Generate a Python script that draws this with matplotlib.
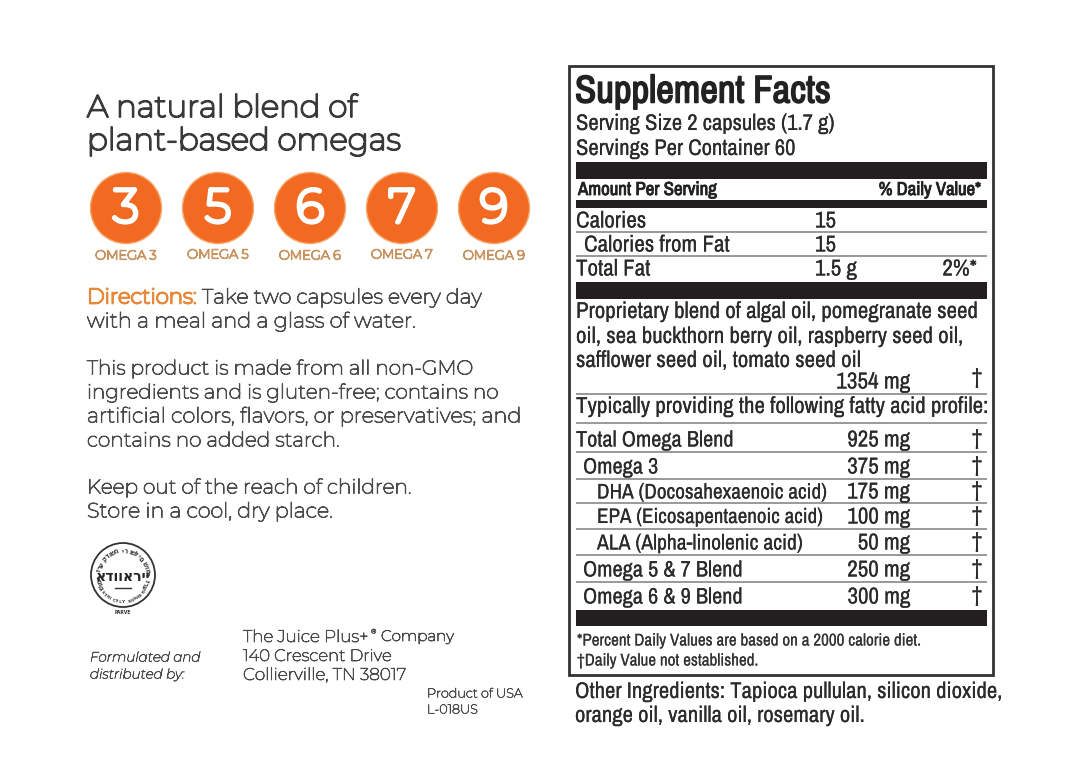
import matplotlib
matplotlib.use('Agg')
import matplotlib.pyplot as plt
import matplotlib.patheffects as pe
import numpy as np
from matplotlib import font_manager as fm

names = {f.name for f in fm.fontManager.ttflist}


def pick(*options):
    return next((o for o in options if o in names), options[-1])


narrow = pick('Liberation Sans Narrow', 'Arimo Narrow', 'Archivo Narrow', 'Roboto Condensed', 'PT Sans Narrow',
              'Barlow Semi Condensed', 'Liberation Sans')
wide = pick('Montserrat', 'Open Sans')

omega_nums = ['3', '5', '6', '7', '9']
omega_labels = ['OMEGA 3', 'OMEGA 5', 'OMEGA 6', 'OMEGA 7', 'OMEGA 9']
omega_x = [126, 218, 310, 402, 494]
omega_label_y = [256, 255, 256, 255, 256]

left_lines = ['with a meal and a glass of water.',
              'This product is made from all non-GMO',
              'ingredients and is gluten-free; contains no',
              'artificial colors, flavors, or preservatives; and',
              'contains no added starch.',
              'Keep out of the reach of children.',
              'Store in a cool, dry place.']
left_y = [322, 369, 393, 417, 441, 488, 512]
left_px = [20.9, 20, 20, 20.9, 20.1, 20.1, 20.7]

row_names = ['Calories', 'Calories from Fat', 'Total Fat', 'Total Omega Blend', 'Omega 3',
             'DHA (Docosahexaenoic acid)', 'EPA (Eicosapentaenoic acid)', 'ALA (Alpha-linolenic acid)',
             'Omega 5 & 7 Blend', 'Omega 6 & 9 Blend']
row_amounts = ['15', '15', '1.5 g', '925 mg', '375 mg', '175 mg', '100 mg', '50 mg', '250 mg', '300 mg']
row_x = [576, 584, 576, 576, 583, 597, 597, 597, 583, 583]
row_y = [220, 244, 268, 439, 466, 491, 516, 542, 569, 596]
row_px = [23, 23, 23, 22.3, 22.3, 21.2, 21, 21.6, 22.3, 22.3]
blend_lines = ['Proprietary blend of algal oil, pomegranate seed',
               'oil, sea buckthorn berry oil, raspberry seed oil,',
               'safflower seed oil, tomato seed oil']
blend_y = [311, 336, 360]

bars = [(162, 179), (200, 208), (282, 299), (610, 626)]
rules = [232, 256, 394, 423, 452, 479, 503, 529, 555, 582]

ORANGE = '#f26a21'
TAN = '#c9935f'
GREY = '#4a4a4a'
DARK = '#2b2b2b'

fig = plt.figure(figsize=(10.8, 7.74), dpi=100)
ax = fig.add_axes([0, 0, 1, 1])
ax.set_xlim(0, 1080)
ax.set_ylim(774, 0)
ax.axis('off')


def put(x, y, s, px, family=narrow, color=DARK, ha='left', stroke=0.05, **kw):
    t = ax.text(x, y, s, fontsize=px * 0.72, family=family, color=color, ha=ha, va='center', **kw)
    if stroke:
        # the installed condensed/geometric fonts come only in one weight, so thicken by stroke
        t.set_path_effects([pe.withStroke(linewidth=stroke, foreground=color)])
    return t


# left column
put(87, 109, 'A natural blend of', 31, wide, '#3a3a3a', stroke=1.4)
put(87, 142, 'plant-based omegas', 31, wide, '#3a3a3a', stroke=1.4)

for x, n, lab, ly in zip(omega_x, omega_nums, omega_labels, omega_label_y):
    ax.add_patch(plt.Circle((x, 208), 35.5, facecolor=ORANGE, edgecolor='#f7a467', linewidth=1))
    put(x, 209, n, 47, wide, 'white', ha='center', stroke=3.2)
    put(x, ly, lab, 13, wide, TAN, ha='center', stroke=0.9)

put(87, 298, 'Directions:', 21.3, wide, '#e8883a', stroke=1.3)
put(202, 298, 'Take two capsules every day', 20.5, wide, GREY, stroke=0.7)
for y, s, px in zip(left_y, left_lines, left_px):
    put(87, y, s, px, wide, GREY, stroke=0.7)

# kosher seal
seal_x, seal_y = 123, 575
ax.add_patch(plt.Circle((seal_x, seal_y), 32, fill=False, edgecolor='#333333', linewidth=1.3))
put(seal_x, seal_y + 2, 'אדוואריי', 14, 'DejaVu Sans', '#222222', ha='center', stroke=0, weight='bold')
ax.plot([seal_x - 8, seal_x + 8], [seal_y + 13, seal_y + 13], color='#333333', lw=1)
ring = 'שומר זרע קדושה ירושלים שומר זרע'
for i, ch in enumerate(ring):
    a = np.deg2rad(150 + i * 240 / (len(ring) - 1))
    ax.text(seal_x + 24 * np.cos(a), seal_y + 24 * np.sin(a), ch, fontsize=4.8, family='DejaVu Sans', weight='bold',
            color='#333333', ha='center', va='center', rotation=270 - np.rad2deg(a))
low = 'STRICTLY KOSHER'
for i, ch in enumerate(low):
    a = np.deg2rad(140 - i * 100 / (len(low) - 1))
    ax.text(seal_x + 27 * np.cos(a), seal_y + 27 * np.sin(a), ch, fontsize=3, family='DejaVu Sans', weight='bold',
            color='#333333', ha='center', va='center', rotation=90 - np.rad2deg(a))
put(seal_x, 612, 'PARVE', 4.5, 'DejaVu Sans', '#333333', ha='center', stroke=0, weight='bold')

put(90, 658, 'Formulated and', 13.5, wide, GREY, style='italic', stroke=0.45)
put(90, 675, 'distributed by:', 13.5, wide, GREY, style='italic', stroke=0.45)
put(243, 637, 'The Juice Plus+', 16.8, wide, GREY, stroke=0.55)
put(371, 632, '®', 6.5, wide, GREY, stroke=0.3)
put(381, 637, 'Company', 15.2, wide, GREY, stroke=0.55)
put(243, 656, '140 Crescent Drive', 16.5, wide, GREY, stroke=0.55)
put(243, 675, 'Collierville, TN 38017', 16.9, wide, GREY, stroke=0.55)
put(427, 694, 'Product of USA', 12.8, wide, GREY, stroke=0.45)
put(427, 710, 'L-018US', 12.8, wide, GREY, stroke=0.45)

# supplement facts panel
ax.add_patch(plt.Rectangle((569, 66), 424, 609, fill=False, edgecolor='#333333', linewidth=2))
for top, bot in bars:
    ax.add_patch(plt.Rectangle((576, top), 411, bot - top, facecolor='#231f20', edgecolor='none'))
for y in rules:
    ax.plot([576, 987], [y, y], color='#888888', lw=1.2, solid_capstyle='butt')

put(575, 92, 'Supplement Facts', 38.7, narrow, '#222222', stroke=1.1)
put(576, 124, 'Serving Size 2 capsules (1.7 g)', 22.6)
put(576, 149, 'Servings Per Container 60', 22.6)
put(578, 190, 'Amount Per Serving', 18.8, narrow, '#222222', stroke=0.6)
put(981, 190, '% Daily Value*', 18.7, narrow, '#222222', ha='right', stroke=0.6)

for i, (name, amt, x, y, px) in enumerate(zip(row_names, row_amounts, row_x, row_y, row_px)):
    put(x, y + 1.5, name, px)
    if i < 3:
        put(815, y + 1.5, amt, 23)
    else:
        put(910, y + 1.5, amt, 23, ha='right')
        put(977, y, '†', 23, ha='center')
put(977, 269.5, '2%*', 23, ha='right')

for y, s in zip(blend_y, blend_lines):
    put(576, y + 1, s, 22.9)
put(910, 382, '1354 mg', 23.2, ha='right')
put(977, 378, '†', 23, ha='center')
put(576, 407, 'Typically providing the following fatty acid profile:', 22.9)

put(577, 641, '*Percent Daily Values are based on a 2000 calorie diet.', 17, color='#333333', stroke=0.05)
put(577, 661, '†Daily Value not established.', 17, color='#333333', stroke=0.05)
put(575, 692, 'Other Ingredients: Tapioca pullulan, silicon dioxide,', 22.7)
put(575, 716, 'orange oil, vanilla oil, rosemary oil.', 22.7)

fig.savefig('out.png', dpi=100, facecolor='white')
